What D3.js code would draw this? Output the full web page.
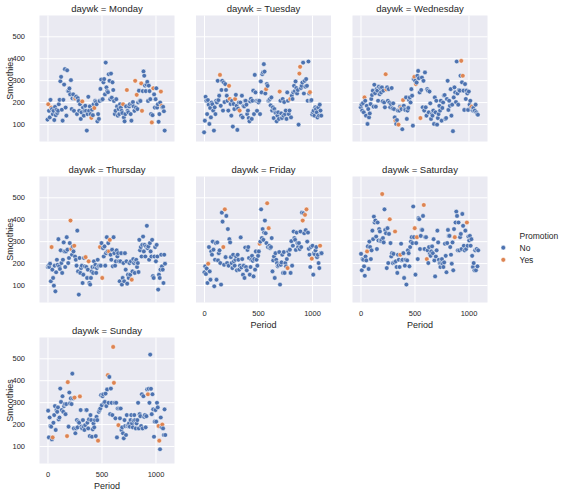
<!DOCTYPE html>
<html><head><meta charset="utf-8">
<script src="https://cdn.jsdelivr.net/npm/d3@7"></script>
<style>
body{margin:0;background:#fff}
text{font-family:"Liberation Sans",Arial,sans-serif;fill:#262626}
</style>
</head><body>
<svg id="chart" width="566" height="496"></svg>
<script>
// ---------------- data ----------------
const days = ["Monday","Tuesday","Wednesday","Thursday","Friday","Saturday","Sunday"];
const dayOffsets = [0,1,2,3,4,5,6];          // first Period of each weekday
const xTicks = [0, 500, 1000];
const yTicks = [100, 200, 300, 400, 500];
const promoLevels = ["No", "Yes"];

const mondaySmoothies = [120,190,160,130,210,175,168,145,160,118,178,140,165,150,
160,190,210,295,315,165,115,210,280,350,175,138,345,250,
250,262,235,300,168,217,235,160,215,217,225,145,218,205,
160,190,123,153,203,175,138,160,183,160,70,145,224,160,
180,145,128,165,140,190,173,205,200,190,112,145,123,205,
260,303,210,213,290,305,235,380,267,250,245,327,297,213,
330,220,290,255,205,145,160,213,180,138,168,145,190,175,
160,150,190,130,112,145,180,255,160,153,180,190,145,115,
190,200,180,160,297,175,233,168,198,252,205,205,285,160,
250,340,320,275,250,280,292,205,275,250,213,145,107,140,
263,235,175,213,263,175,190,110,145,198,248,183,175,178,158,70];
const mondayPromo = [1,5,37,46,58,62,100,105,116,118,124,125,138,140,150,151];

const tuesdaySmoothies = [62,115,224,206,145,209,188,100,173,130,
198,190,161,70,176,145,206,198,297,209,229,324,
183,255,297,161,289,200,282,255,229,206,161,274,214,
191,138,206,88,191,168,214,233,183,73,170,198,161,
198,138,229,130,183,180,206,206,188,145,161,127,112,203,215,123,206,252,145,324,244,206,160,206,198,206,145,294,244,327,335,373,339,239,
259,282,274,206,209,214,185,221,161,176,127,168,153,150,112,138,153,123,
248,206,148,127,214,138,200,145,161,123,244,206,145,161,
214,130,229,214,244,274,250,294,264,239,255,97,330,361,
264,274,289,380,239,297,270,305,274,206,385,239,245,
206,209,143,153,161,138,176,168,153,130,176,138,188,161,138];
const tuesdayPromo = [21,33,34,41,47,82,100,114,126,127,140];

const wednesdaySmoothies = [176,188,161,195,153,221,206,138,183,100,
168,130,148,191,214,232,252,179,279,240,
179,259,252,206,270,236,264,244,267,203,
252,198,176,327,258,267,206,259,198,176,
191,264,171,194,168,130,115,100,118,161,
97,161,179,173,168,76,209,183,168,164,
221,123,161,173,209,221,198,259,229,92,
305,315,297,282,289,320,342,309,244,127,
255,312,176,297,161,335,176,138,259,252,
153,248,194,123,145,138,161,100,221,153,
206,97,127,145,183,161,206,115,173,198,
230,232,123,127,214,297,164,206,183,259,
138,188,67,221,267,244,200,385,239,188,
255,252,320,388,290,320,252,164,282,214,
252,239,164,248,188,206,176,179,161,173,
158,161,188,153,145,142];
const wednesdayPromo = [5,33,34,46,50,53,56,71,73,79,133,135,147];

const thursdaySmoothies = [182,188,182,197,117,273,170,132,97,188,
71,158,215,192,309,185,173,258,200,155,
215,294,253,182,253,318,261,200,223,291,
394,264,238,276,253,279,230,215,188,348,
162,56,223,155,177,188,109,147,223,185,
227,182,132,170,208,109,102,132,162,182,
155,208,182,192,155,177,215,185,188,273,
188,291,132,268,230,276,188,245,318,253,
291,253,306,238,215,261,185,318,245,188,
208,258,230,245,208,117,208,245,102,132,
200,117,245,170,208,106,147,132,200,147,
208,124,162,218,200,155,208,215,182,200,
159,306,258,273,230,283,321,
253,283,230,276,370,268,276,215,
291,253,230,306,140,132,230,273,
208,283,230,79,147,132,170,238,
185,170,109,238,197];
const thursdayPromo = [5,30,31,35,50,54,69,72,81,82,111];

const fridaySmoothies = [158,185,150,175,109,197,
273,162,124,253,238,298,261,94,215,291,124,294,212,245,258,200,102,430,389,273,192,445,
227,415,200,355,188,309,294,227,200,177,238,208,188,215,230,167,238,215,170,188,317,180,218,147,188,132,271,182,167,260,273,223,147,182,215,233,210,139,218,170,253,215,188,233,253,
288,298,445,314,355,306,339,394,336,291,473,273,359,
279,268,273,314,162,212,230,132,245,215,200,185,190,250,102,192,203,238,155,250,155,200,185,218,
177,
253,238,261,155,300,188,279,344,314,306,260,339,291,273,291,264,344,273,430,
394,427,336,420,350,445,298,339,265,238,182,273,220,279,147,245,240,258,273,227,238,200,177,279,245,245];
const fridayPromo = [5,25,27,73,83,85,110,130,133,135,142,153];

const saturdaySmoothies = [242,167,218,215,185,142,230,212,253,276,
173,298,273,218,258,348,309,412,385,394,
321,264,385,303,355,344,301,306,515,314,
294,445,351,336,177,359,200,333,400,291,
230,245,200,242,203,344,208,182,155,238,
215,182,238,288,212,215,245,132,188,215,
102,212,258,245,185,273,298,318,291,458,
318,359,147,291,318,218,405,400,264,324,
351,351,415,465,264,318,318,218,258,200,
273,242,233,253,276,245,309,212,139,230,
258,348,294,215,200,182,200,218,197,182,
203,288,233,158,291,351,324,324,273,238,
197,294,167,355,318,385,435,415,258,385,
258,318,333,264,424,370,279,258,348,264,
385,279,321,303,324,279,309,233,182,200,
167,258,167,264,185,258];
const saturdayPromo = [8,28,38,45,52,71,74,83,87,124,140];

const sundaySmoothies = [261,139,230,191,188,130,139,206,241,282,
173,264,256,276,221,230,362,301,264,327,
256,282,291,245,291,145,391,188,344,294,
317,291,430,317,180,321,158,180,218,185,
211,206,326,264,188,180,218,188,173,195,
264,264,206,180,221,145,241,218,142,176,
203,185,218,145,233,218,124,256,264,271,
332,286,327,336,297,301,339,
282,358,423,297,415,245,
362,297,241,552,388,297,226,297,139,271,195,271,226,271,173,185,158,135,218,191,150,241,191,
195,203,188,218,241,203,
185,215,241,218,180,203,218,
297,180,245,236,191,336,180,327,233,241,185,236,358,336,361,297,517,361,245,
336,267,142,211,264,211,297,276,191,124,
85,230,185,198,180,150,267,150];
const sundayPromo = [6,25,26,35,42,66,79,86,87,93,132,146,147,151];

const smoothiesByDay = [mondaySmoothies,tuesdaySmoothies,wednesdaySmoothies,thursdaySmoothies,fridaySmoothies,saturdaySmoothies,sundaySmoothies];
const promoByDay = [mondayPromo,tuesdayPromo,wednesdayPromo,thursdayPromo,fridayPromo,saturdayPromo,sundayPromo];

// ---------------- layout ----------------
const svg = d3.select("#chart");
const panelW = 135, panelH = 126;
const colX = [39.5, 196, 352.5];
const rowY = [15.5, 176.5, 337.5];
const x = d3.scaleLinear().domain([-74, 1176]).range([0, panelW]);
const y = d3.scaleLinear().domain([20, 595]).range([panelH, 0]);
const color = d3.scaleOrdinal().domain(promoLevels).range(["#4C72B0", "#DD8452"]);
const R = 2.35;

days.forEach((day, i) => {
  const col = i % 3, row = Math.floor(i / 3);
  const g = svg.append("g").attr("transform", `translate(${colX[col]},${rowY[row]})`);
  const promoSet = new Set(promoByDay[i]);
  const rows = smoothiesByDay[i].map((v, k) => ({
    period: k * 7 + dayOffsets[i],
    smoothies: v,
    promotion: promoSet.has(k) ? "Yes" : "No"
  }));

  g.append("rect").attr("width", panelW).attr("height", panelH).attr("fill", "#EAEAF2");

  const showY = col === 0;
  const showX = i >= 4;

  const ya = g.append("g").call(
    d3.axisLeft(y).tickValues(yTicks).tickSize(-panelW).tickPadding(14.5)
      .tickFormat(showY ? d3.format("d") : () => ""));
  const xa = g.append("g").attr("transform", `translate(0,${panelH})`).call(
    d3.axisBottom(x).tickValues(xTicks).tickSize(-panelH).tickPadding(8.5)
      .tickFormat(showX ? d3.format("d") : () => ""));
  [ya, xa].forEach(a => {
    a.select(".domain").remove();
    a.selectAll(".tick line").attr("stroke", "#fff").attr("stroke-width", 1);
    a.selectAll(".tick text").attr("fill", "#262626").style("font-size", "7.5px")
      .style("font-family", '"Liberation Sans",Arial,sans-serif');
  });

  g.append("text").attr("x", panelW / 2).attr("y", -3.5).attr("text-anchor", "middle")
    .style("font-size", "9.5px").text(`daywk = ${day}`);

  g.append("g").selectAll("circle").data(rows).join("circle")
    .attr("cx", d => x(d.period)).attr("cy", d => y(d.smoothies))
    .attr("r", R).attr("fill", d => color(d.promotion))
    .attr("stroke", "#fff").attr("stroke-width", 0.5);

  if (showY) {
    g.append("text").attr("transform", `translate(${9.5 - colX[col]},${panelH / 2}) rotate(-90)`)
      .attr("text-anchor", "middle").attr("dy", "0.35em").style("font-size", "9px").text("Smoothies");
  }
  if (showX) {
    g.append("text").attr("x", panelW / 2).attr("y", panelH + 25).attr("text-anchor", "middle")
      .style("font-size", "9px").text("Period");
  }
});

// ---------------- legend ----------------
const lg = svg.append("g");
lg.append("text").attr("x", 519.5).attr("y", 239).style("font-size", "8.5px").text("Promotion");
promoLevels.forEach((p, j) => {
  const cy = 247.7 + j * 12.1;
  lg.append("circle").attr("cx", 503.3).attr("cy", cy).attr("r", R)
    .attr("fill", color(p)).attr("stroke", "#fff").attr("stroke-width", 0.5);
  lg.append("text").attr("x", 519.5).attr("y", cy + 3).style("font-size", "8.5px").text(p);
});
</script>
</body></html>
